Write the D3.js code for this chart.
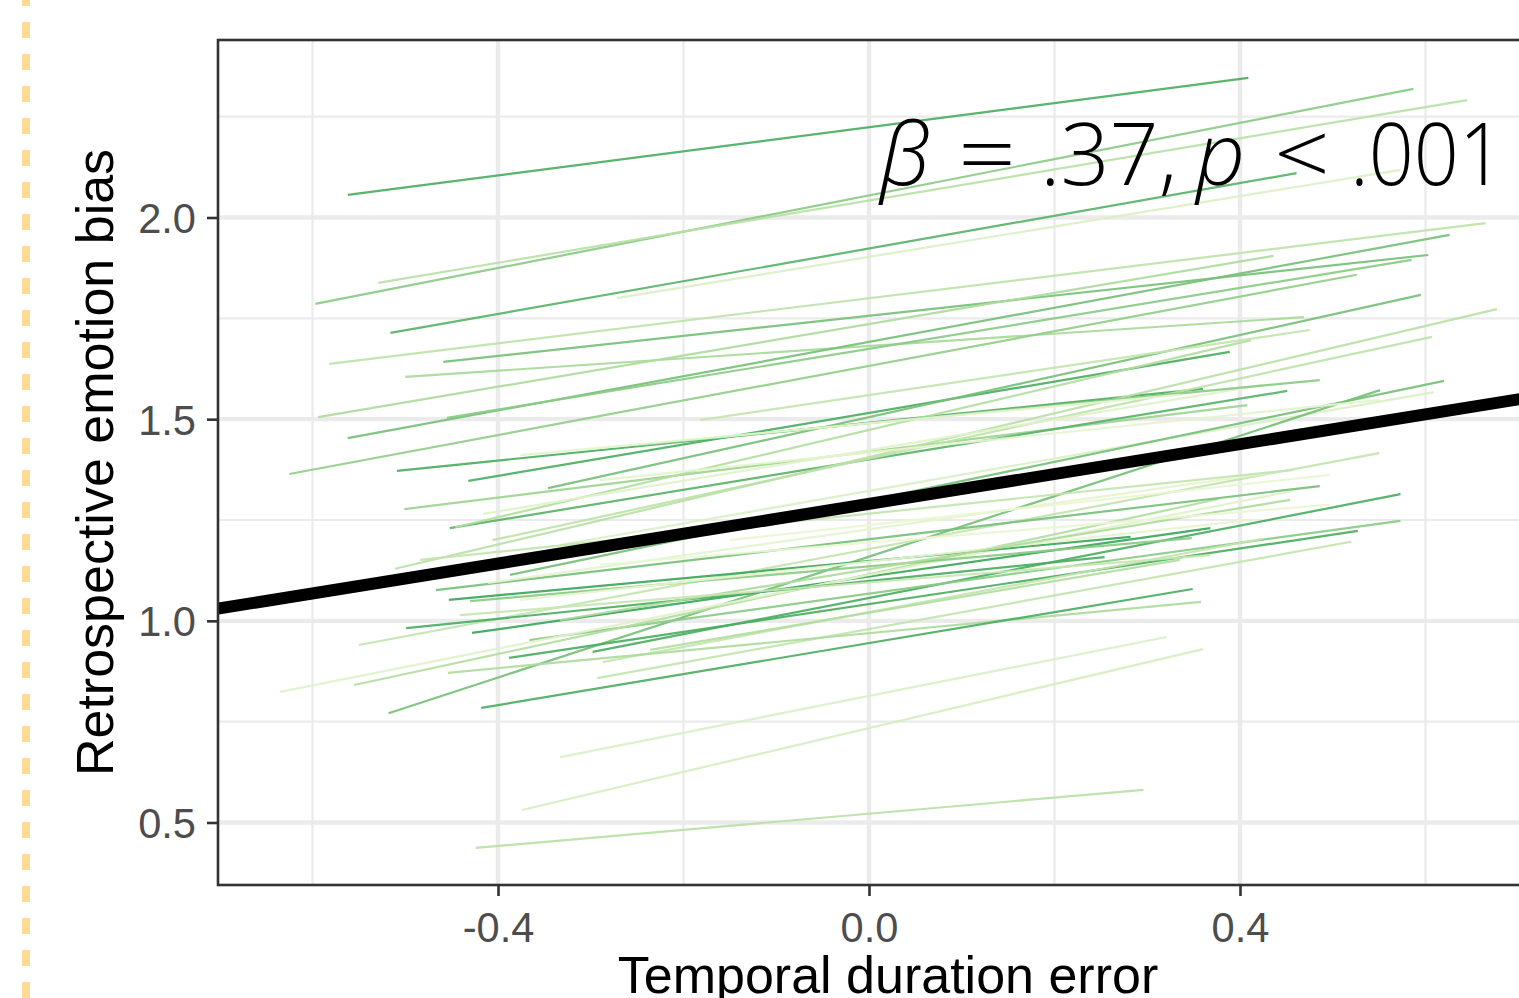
<!DOCTYPE html>
<html>
<head>
<meta charset="utf-8">
<script src="https://cdn.jsdelivr.net/npm/d3@7"></script>
<style>
  html, body { margin: 0; padding: 0; background: #fff; overflow: hidden; }
  svg { display: block; }
</style>
</head>
<body>
<svg id="chart" width="1519" height="998"></svg>
<script>
// ---- data ----
const xTicks = [-0.4, 0.0, 0.4];
const xTickLabels = ["-0.4", "0.0", "0.4"];
const xMinor = [-0.6, -0.2, 0.2, 0.6];
const yTicks = [0.5, 1.0, 1.5, 2.0];
const yTickLabels = ["0.5", "1.0", "1.5", "2.0"];
const yMinor = [0.75, 1.25, 1.75, 2.25];

// per-participant fitted lines: start/end x, start/end y, colour shade
const lineStartX = [-0.562,-0.597,-0.529,-0.516,-0.272,-0.582,-0.459,-0.500,-0.594,-0.562,-0.455,-0.625,-0.509,-0.432,-0.501,-0.346,-0.452,-0.446,-0.406,-0.511,-0.416,-0.333,-0.387,-0.518,-0.298,-0.388,-0.428,-0.366,-0.287,-0.293,-0.454,-0.555,-0.635,-0.550,-0.499,-0.430,-0.453,-0.467,-0.418,-0.333,-0.374,-0.424,-0.411,-0.484,-0.290,-0.376,-0.333,-0.441,-0.290,-0.182,-0.247,-0.376,-0.236,-0.150];
const lineEndX   = [0.409,0.587,0.645,0.461,0.573,0.665,0.603,0.469,0.436,0.626,0.585,0.526,0.360,0.389,0.408,0.595,0.451,0.412,0.607,0.677,0.425,0.609,0.620,0.551,0.573,0.527,0.368,0.573,0.423,0.520,0.358,0.377,0.457,0.550,0.254,0.348,0.282,0.486,0.349,0.321,0.360,0.296,0.454,0.457,0.551,0.411,0.454,0.368,0.497,0.475,0.486,0.335,0.335,0.497];
const lineStartY = [2.056,1.786,1.838,1.714,1.800,1.637,1.642,1.605,1.505,1.453,1.503,1.364,1.372,1.347,1.277,1.329,1.230,1.232,1.200,1.129,1.265,1.188,1.114,0.771,0.923,0.908,0.970,0.952,0.898,0.858,0.871,0.841,0.824,0.940,0.982,1.049,1.052,1.076,0.784,0.662,0.531,0.437,1.094,1.151,1.349,1.052,1.002,1.014,1.139,1.498,1.436,1.411,0.928,1.200];
const lineEndY   = [2.346,2.319,2.291,2.110,2.118,1.986,1.907,1.753,1.905,1.957,1.895,1.858,1.575,1.667,1.535,1.808,1.570,1.696,1.704,1.773,1.585,1.567,1.595,1.572,1.314,1.223,1.230,1.248,1.203,1.196,1.047,1.302,1.322,1.416,1.158,1.205,1.208,1.334,1.079,0.960,0.930,0.581,1.374,1.374,1.548,1.250,1.300,1.163,1.288,1.721,1.597,1.560,1.151,1.362];
const lineShade  = [0.65,0.50,0.36,0.62,0.22,0.34,0.55,0.42,0.40,0.55,0.50,0.48,0.65,0.65,0.45,0.55,0.62,0.38,0.34,0.36,0.20,0.22,0.55,0.55,0.65,0.65,0.68,0.50,0.32,0.32,0.40,0.38,0.20,0.32,0.65,0.50,0.68,0.55,0.65,0.22,0.24,0.36,0.18,0.32,0.18,0.18,0.40,0.30,0.16,0.32,0.50,0.18,0.38,0.16];

// overall fixed effect
const fixedIntercept = 1.29;
const fixedSlope = 0.37;

const xTitle = "Temporal duration error";
const yTitle = "Retrospective emotion bias";

// ---- layout ----
const svg = d3.select("#chart");
const panel = { left: 218, top: 40, bottom: 885, right: 1620 };

const x = d3.scaleLinear().domain([-0.4, 0.4]).range([498, 1240]);
const xDomainLeft = x.invert(panel.left), xDomainRight = x.invert(panel.right);
x.domain([xDomainLeft, xDomainRight]).range([panel.left, panel.right]);
const y = d3.scaleLinear().domain([0.5, 2.0]).range([822.5, 217.5]);
y.domain([y.invert(panel.bottom), y.invert(panel.top)]).range([panel.bottom, panel.top]);

// left dashed separator
svg.append("line")
  .attr("x1", 26).attr("x2", 26).attr("y1", 0).attr("y2", 998)
  .attr("stroke", "#fddb97").attr("stroke-width", 8)
  .attr("stroke-dasharray", "16,16").attr("stroke-dashoffset", 10);

svg.append("defs").append("clipPath").attr("id", "clip")
  .append("rect").attr("x", panel.left).attr("y", panel.top)
  .attr("width", panel.right - panel.left).attr("height", panel.bottom - panel.top);

const g = svg.append("g");

// grid
g.selectAll(".gxm").data(xMinor).join("line")
  .attr("x1", d => x(d)).attr("x2", d => x(d))
  .attr("y1", panel.top).attr("y2", panel.bottom)
  .attr("stroke", "#ebebeb").attr("stroke-width", 2.2);
g.selectAll(".gym").data(yMinor).join("line")
  .attr("y1", d => y(d)).attr("y2", d => y(d))
  .attr("x1", panel.left).attr("x2", panel.right)
  .attr("stroke", "#ebebeb").attr("stroke-width", 2.2);
g.selectAll(".gx").data(xTicks).join("line")
  .attr("x1", d => x(d)).attr("x2", d => x(d))
  .attr("y1", panel.top).attr("y2", panel.bottom)
  .attr("stroke", "#ebebeb").attr("stroke-width", 4.4);
g.selectAll(".gy").data(yTicks).join("line")
  .attr("y1", d => y(d)).attr("y2", d => y(d))
  .attr("x1", panel.left).attr("x2", panel.right)
  .attr("stroke", "#ebebeb").attr("stroke-width", 4.4);

// participant lines
const color = d3.scaleLinear().domain([0.15, 0.42, 0.68])
  .range(["#eef8d6", "#a9da98", "#3ca85a"]).interpolate(d3.interpolateLab).clamp(true);
const lines = lineStartX.map((d, i) => ({ x0: d, x1: lineEndX[i], y0: lineStartY[i], y1: lineEndY[i], s: lineShade[i] }));
const plot = g.append("g").attr("clip-path", "url(#clip)");
plot.selectAll(".pl").data(lines).join("line")
  .attr("x1", d => x(d.x0)).attr("x2", d => x(d.x1))
  .attr("y1", d => y(d.y0)).attr("y2", d => y(d.y1))
  .attr("stroke", d => color(d.s)).attr("stroke-width", 2.2)
  .attr("opacity", 0.92);

// fixed-effect line
plot.append("line")
  .attr("x1", x(xDomainLeft)).attr("x2", x(xDomainRight))
  .attr("y1", y(fixedIntercept + fixedSlope * xDomainLeft))
  .attr("y2", y(fixedIntercept + fixedSlope * xDomainRight))
  .attr("stroke", "#000").attr("stroke-width", 12);

// panel border
g.append("rect")
  .attr("x", panel.left).attr("y", panel.top)
  .attr("width", panel.right - panel.left).attr("height", panel.bottom - panel.top)
  .attr("fill", "none").attr("stroke", "#333").attr("stroke-width", 2.6);

// axes
const xAxis = d3.axisBottom(x).tickValues(xTicks).tickFormat((d, i) => xTickLabels[i])
  .tickSize(11).tickPadding(16);
const yAxis = d3.axisLeft(y).tickValues(yTicks).tickFormat((d, i) => yTickLabels[i])
  .tickSize(11).tickPadding(11);
const gx = svg.append("g").attr("transform", `translate(0,${panel.bottom})`).call(xAxis);
const gy = svg.append("g").attr("transform", `translate(${panel.left},0)`).call(yAxis);
[gx, gy].forEach(a => {
  a.select(".domain").remove();
  a.selectAll(".tick line").attr("stroke", "#333").attr("stroke-width", 2.6);
  a.selectAll(".tick text").attr("fill", "#4d4d4d")
    .style("font-family", "'Liberation Sans', Arial, Helvetica, sans-serif")
    .style("font-size", "41.6px");
});
gx.selectAll(".tick text").attr("dy", "0.71em");
gy.selectAll(".tick text").attr("dy", "0.36em");

// titles
svg.append("text")
  .attr("x", x(0) + 19).attr("y", 993)
  .attr("text-anchor", "middle")
  .style("font-family", "'Liberation Sans', Arial, Helvetica, sans-serif")
  .style("font-size", "52px").attr("fill", "#000")
  .text(xTitle);
svg.append("text")
  .attr("transform", `translate(113,${(panel.top + panel.bottom) / 2}) rotate(-90)`)
  .attr("text-anchor", "middle")
  .style("font-family", "'Liberation Sans', Arial, Helvetica, sans-serif")
  .style("font-size", "52px").attr("fill", "#000")
  .text(yTitle);

// annotation (math-style spacing)
const ann = svg.append("text")
  .attr("y", 185)
  .style("font-family", "'Open Sans', 'Noto Sans', sans-serif")
  .style("font-weight", 300)
  .style("font-size", "86px").attr("fill", "#000");
ann.append("tspan").attr("x", 880).style("font-style", "italic").text("β");
ann.append("tspan").attr("x", 958).attr("textLength", 58).attr("lengthAdjust", "spacingAndGlyphs").text("=");
ann.append("tspan").attr("x", 1040).text(".37,");
ann.append("tspan").attr("x", 1196).style("font-style", "italic").text("p");
ann.append("tspan").attr("x", 1274).attr("textLength", 56).attr("lengthAdjust", "spacingAndGlyphs").text("<");
ann.append("tspan").attr("x", 1350).attr("textLength", 154).attr("lengthAdjust", "spacingAndGlyphs").text(".001");
</script>
</body>
</html>
